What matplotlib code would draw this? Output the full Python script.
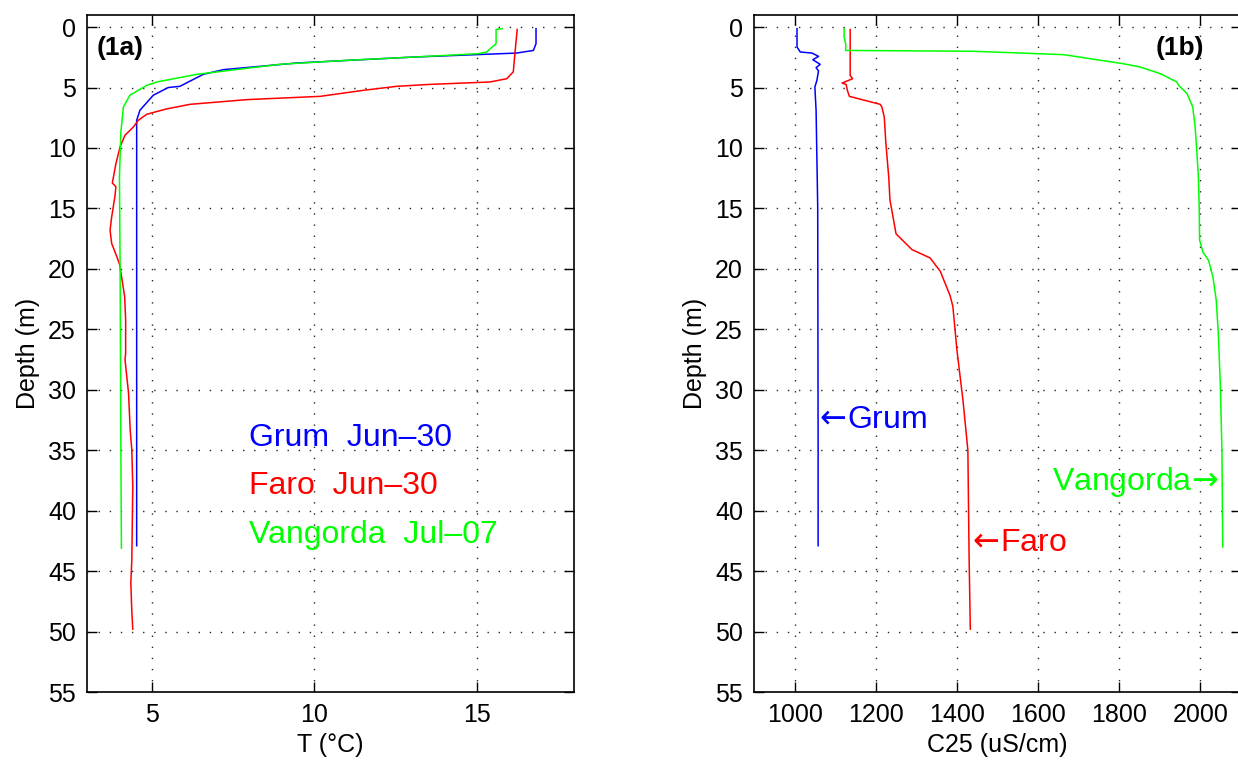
import matplotlib
matplotlib.use("Agg")
import matplotlib.pyplot as plt

# ---- Temperature profiles (depth m, T degC) ----
grum_T_depth = [0.13, 1.37, 1.93, 2.15, 2.48, 2.97, 3.52, 3.91, 4.9, 5.0, 5.64, 6.88, 7.71, 15.0, 30.0, 42.9]
grum_T = [16.83, 16.83, 16.75, 16.23, 13.05, 9.46, 7.2, 6.58, 5.86, 5.5, 5.04, 4.63, 4.53, 4.53, 4.53, 4.53]

faro_T_depth = [0.2, 2.2, 3.7, 4.27, 4.54, 4.74, 4.9, 5.23, 5.73, 6.0, 6.39, 6.77, 7.21, 7.71, 8.26,
                8.95, 9.9, 11.3, 12.9, 13.2, 14.0, 15.7, 16.8, 17.9, 19.0, 19.6, 20.9, 22.3, 24.2,
                27.0, 27.5, 30.3, 33.3, 35.0, 38.0, 44.1, 46.0, 48.3, 49.8]
faro_T = [16.25, 16.18, 16.13, 15.93, 15.41, 13.56, 12.54, 11.51, 10.18, 7.92, 6.17, 5.45, 4.84, 4.58, 4.43,
          4.17, 4.02, 3.89, 3.78, 3.89, 3.86, 3.76, 3.71, 3.76, 3.92, 4.0, 4.08, 4.16, 4.19,
          4.19, 4.17, 4.28, 4.33, 4.38, 4.41, 4.38, 4.35, 4.38, 4.41]

vang_T_depth = [0.13, 0.2, 1.37, 1.6, 2.06, 2.2, 2.48, 2.75, 3.08, 3.91, 4.54, 4.82, 5.64, 6.61, 8.8,
                12.4, 20.0, 33.3, 43.1]
vang_T = [15.79, 15.6, 15.6, 15.5, 15.31, 15.05, 13.05, 11.0, 8.94, 6.38, 5.15, 4.84, 4.32, 4.12, 4.04,
          4.0, 4.02, 4.04, 4.06]

# ---- Conductivity profiles (depth m, C25 uS/cm) ----
grum_C_depth = [0.13, 1.65, 2.06, 2.15, 2.42, 2.7, 3.08, 3.36, 3.63, 4.4, 4.96, 6.9, 14.9, 35.0, 42.9]
grum_C = [1006, 1006, 1014, 1043, 1059, 1045, 1063, 1053, 1059, 1055, 1050, 1053, 1057, 1058, 1058]

faro_C_depth = [0.2, 4.0, 4.27, 4.63, 4.74, 5.23, 5.73, 6.39, 6.6, 7.44, 9.64, 12.4, 14.3, 17.1, 18.4,
                19.1, 20.2, 22.2, 23.1, 26.7, 30.9, 35.0, 43.8, 49.8]
faro_C = [1137, 1137, 1143, 1117, 1127, 1130, 1135, 1211, 1215, 1221, 1225, 1232, 1235, 1250, 1289,
          1334, 1359, 1383, 1390, 1400, 1415, 1427, 1430, 1433]

vang_C_depth = [0.13, 0.83, 1.37, 1.93, 2.0, 2.28, 2.7, 3.03, 3.3, 3.85, 4.54, 4.8, 5.5, 6.6, 8.26,
                10.2, 12.4, 14.9, 17.6, 18.6, 19.3, 20.7, 22.6, 25.3, 29.5, 35.0, 43.0]
vang_C = [1122, 1122, 1126, 1126, 1441, 1663, 1745, 1810, 1851, 1901, 1942, 1946, 1967, 1981, 1987,
          1991, 1995, 1997, 1998, 2006, 2020, 2031, 2039, 2044, 2049, 2053, 2055]

depth_ticks = list(range(0, 60, 5))
T_ticks = [5, 10, 15]
C_ticks = [1000, 1200, 1400, 1600, 1800, 2000]

legend_labels = ["Grum  Jun\u201330", "Faro  Jun\u201330", "Vangorda  Jul\u201307"]

BLUE = (0, 0, 1)
RED = (1, 0, 0)
GREEN = (0, 1, 0)

plt.rcParams['font.family'] = ['Liberation Sans', 'DejaVu Sans']
plt.rcParams['mathtext.fontset'] = 'dejavusans'

fig = plt.figure(figsize=(12.38, 7.64), dpi=100)
W, H = 1238.0, 764.0
ax1 = fig.add_axes([87 / W, 1 - 692 / H, (574 - 87) / W, (692 - 15) / H])
ax2 = fig.add_axes([754 / W, 1 - 692 / H, (1241 - 754) / W, (692 - 15) / H])

lw = 1.1
ax1.plot(grum_T, grum_T_depth, color=BLUE, lw=lw)
ax1.plot(faro_T, faro_T_depth, color=RED, lw=lw)
ax1.plot(vang_T, vang_T_depth, color=GREEN, lw=lw)

ax2.plot(grum_C, grum_C_depth, color=BLUE, lw=lw)
ax2.plot(faro_C, faro_C_depth, color=RED, lw=lw)
ax2.plot(vang_C, vang_C_depth, color=GREEN, lw=lw)

for ax in (ax1, ax2):
    ax.set_ylim(55, -1)
    ax.set_yticks(depth_ticks)
    ax.grid(True, color='k', linestyle=(0, (1, 7)), linewidth=1.0, alpha=0.85)
    ax.tick_params(direction='in', length=7, width=1.0, top=True, right=True,
                   labelsize=18, pad=8, colors='k')
    for sp in ax.spines.values():
        sp.set_linewidth(1.2)
    ax.set_ylabel("Depth (m)", fontsize=18, labelpad=6)

ax1.set_xlim(3, 18)
ax1.set_xticks(T_ticks)
ax1.set_xlabel("T (\u00b0C)", fontsize=18, labelpad=4)

ax2.set_xlim(900, 2100)
ax2.set_xticks(C_ticks)
ax2.set_xlabel("C25 (uS/cm)", fontsize=18, labelpad=4)

ax1.text(3.3, 1.75, "(1a)", fontsize=19, fontweight='bold', va='center', ha='left')
ax2.text(1890, 1.75, "(1b)", fontsize=19, fontweight='bold', va='center', ha='left')

for lab, yy, c in zip(legend_labels, [34, 38, 42], [BLUE, RED, GREEN]):
    ax1.text(8.0, yy, lab, color=c, fontsize=23, va='center', ha='left')

ax2.text(1045, 32.5, r"$\leftarrow\!$Grum", color=BLUE, fontsize=23, va='center', ha='left')
ax2.text(1423, 42.7, r"$\leftarrow\!$Faro", color=RED, fontsize=23, va='center', ha='left')
ax2.text(2045, 37.6, r"Vangorda$\!\rightarrow$", color=GREEN, fontsize=23, va='center', ha='right')

fig.savefig("out.png", dpi=100)
